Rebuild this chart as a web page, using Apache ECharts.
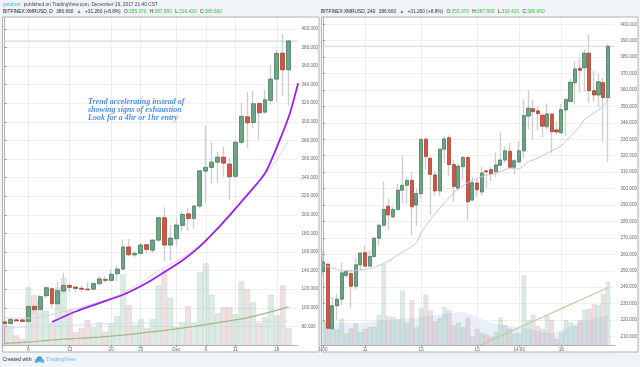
<!DOCTYPE html>
<html>
<head>
<meta charset="utf-8">
<script src="https://cdn.jsdelivr.net/npm/echarts@6/dist/echarts.min.js"></script>
<style>
html,body{margin:0;padding:0;background:#f0f3f7;}
#main{width:640px;height:367px;}
</style>
</head>
<body>
<div id="main"></div>
<script>
// daily panel: [open, close, low, high]
var dailyCandles = [
  [85,83,79,86.5],[83,87.5,82,89],[87,86,85.5,88],[87,85.4,85,87.5],[85.4,101.5,84.7,102],
  [101.5,98,93.6,104],[98.3,112,97,114],[113,121.6,110,123],[120.5,104.4,100,122],[104.4,118.4,100,127.7],
  [118,124,115,138],[124,122,116.6,126.6],[122.3,120.9,117,123],[121,120,117,123.7],[120,119.4,119,128],
  [120,126,119,127],[126,131,123.7,134.5],[130.5,129.5,127,133.8],[129.5,136,128,142],[136.6,141.6,128,145.6],
  [141.6,165.3,141,173.5],[165.3,157,156,174],[157,158.5,154,161.7],[158.5,167.5,158,170],[167.8,162.8,159,168.5],
  [162,172.8,159,174],[172.8,196.8,171,197.5],[196.8,167.5,150,208],[167.5,175,150.6,189],[174.3,189,166,197],
  [188.6,200.4,182,204.7],[201,196,182.5,207.6],[196,209.4,185,210.5],[209.4,247.3,207,248],[247,251,212.6,296],
  [251,256.6,233.7,278],[256.6,262,233.7,267.4],[262,255.6,241,272.8],[254.5,241,215.5,261],[241.4,278,239,278.5],
  [278,305.7,276,320.4],[305.4,299,271.7,332],[299.3,319.4,293,333],[319.7,309.7,280.6,320],[310.4,323.7,308.6,334.4],
  [323,345.9,318.3,361],[345.9,373.5,321.5,377.4],[373.8,355.9,328,394.6],[355.9,387,317,387.9]
];
var dailyVolume = [20,19,9.7,6,57.7,49.7,42.3,34.3,21.7,57.7,67,35,13,17,25,17.7,22.7,13.3,21.7,29,71,40,19.7,25.7,17,25.7,59.7,75,47,18.3,23,39,21.7,73,81.7,50.3,31.7,38,37.7,31,63.7,55.7,42.7,21.7,27.7,50.3,29.7,59.7,17];
var dailyTickIdx = [4,11,18,23,29,34,39,46];
var dailyTickText = ['6','13','20','25','Dec','6','11','18'];
var dailyTrend = [[8,84.7],[12,96],[16,105],[20,114],[24,126.6],[27.4,140],[30.2,151.7],[33,166],[35.8,184],[38.6,203.7],[41.5,225],[43.2,237.7],[44.3,248],[46.5,280.6],[48.2,309],[49.6,341.6]];
var dailyMaFast = [[0,89],[5,89],[10,96],[15,104.4],[19,113],[23,126.6],[26,140],[30,153.5],[34,173],[38,198],[40.3,218],[43.7,241],[46,259],[48,280]];
var dailyMaSlow = [[0,61.7],[4,63],[8,65.5],[12,67],[16,68.5],[20,70.6],[24,73.5],[28,76.5],[32,80],[36,84],[40,88],[44,94],[48,101]];
var dailyVolMa = [[0,17],[5,18],[11,20],[23,22],[30,22],[48,24]];

// 4h panel: [open, close, low, high]
var h4Candles = [
  [249.6,255.4,246.7,262],[254,215,214.7,254.5],[214.7,228.7,214.3,234],[228.7,232.7,220,236],[232.7,248.7,229,254.8],
  [247,249.6,246.6,250.4],[248.3,240.6,227,250.4],[240.6,253.6,238.6,258],[253.6,260.7,250.4,261.5],[261,252.8,252.4,265],
  [252.8,258.7,252.4,262.5],[258.7,269.8,258,270.6],[269.8,277.7,265.4,278.4],[277.7,287.3,276.3,304.5],[289.3,284,275,294],
  [282.8,287.3,282,289],[287.3,299,287,303],[299,302,291.3,320.3],[302,305,291,307],[305,289,271.7,310],
  [290,297,277,300],[297,330,294,330.5],[330,319.5,311.8,331.4],[318.5,308.7,284,318.8],[308.3,298.6,295.6,311],
  [298.6,324,295.4,324.5],[324,330.2,315.4,332],[331,314.6,307.3,332.5],[314.6,301.3,292,317.4],[300.2,313.6,299,315.4],
  [313.4,319,305,319.5],[319,292,280.8,319.4],[293,303.6,292.6,307.3],[303.4,299.3,295,306],[298,309.5,295.6,313.4],
  [310.8,310.2,300,311.2],[311.6,309,304.5,313.4],[310.3,314.4,307,322],[314.2,317.4,314,334],[317.4,323,315.8,325.6],
  [322.7,313,312.5,327.8],[313,317,308.7,318],[316.2,323,315.8,329],[323,344.4,318.5,354.4],[344.2,348.9,336.3,360],
  [348.7,346.9,330,354],[347.3,345.6,335.3,350],[344.6,338,331.2,345.8],[337.7,345.4,336,352],[345.4,334.7,321.5,345.8],
  [335.7,334.5,333,340.8],[334,348,333.6,351.5],[347.9,354.2,332,355],[353,364.7,352.6,367],[364.5,372.8,351,377.3],
  [373.2,372,358.4,380],[373.6,382.4,359,384.8],[382.4,359.6,352.3,394],[359.6,357,353,371.8],[357,365,349.5,369.8],
  [364.5,355.4,328,367.3],[355.4,386.6,316.4,388]
];
var h4Volume = [23.7,23.3,16,16,26.7,12,16.7,22,13,16,18,18.3,30,81,29,28,25.7,54.7,22,45,17.7,36.7,50.7,35,23.7,27,38,35,19.7,22.3,18,27,8.3,16.3,11.7,10.7,8.3,13,27.7,20,16.3,11.7,12,69.7,24.7,30.3,19,16,29.7,25,6.3,12.7,25,22.7,19.3,25,35.3,36.3,41,40,51,63];
var h4TickIdx = [0,9,21,33,42,51];
var h4TickText = ['1:00','11','13','15','14:00','18'];
var h4MaFast = [[0,253.4],[2,251.8],[4,250],[6,250],[8,250.4],[11,252],[14,255.8],[16,259.5],[18,263],[20,267],[21,273],[23,281],[24,284.8],[26,291.3],[28,297.4],[29,299.8],[31,303.6],[34,307.3],[37,309.3],[40,312.3],[42,312],[44,316.4],[46,318.5],[49,323],[51,326],[53,331.6],[55,337.7],[56,342],[58,345.8],[60,350],[61,354]];
var h4MaSlow = [[33.6,204.7],[44,217.9],[61,239.6]];
var h4VolMa = [[0,23],[7,22],[14,25],[21,28],[30,33],[36,22],[42,18],[49,12],[55,23],[61,30]];

var lastPrice = 386.66;
var noteLines = ['Trend accelerating instead of', 'showing signs of exhaustion', 'Look for a 4hr or 1hr entry'];

var GREEN = '#6ba583', RED = '#d75442';
var GREEN_EDGE = '#3a7353', RED_EDGE = '#9c3a2a';
var WICK = '#cfcfcf';
var GRID_LINE = '#f0f0f0', FRAME = '#b2b2b2', LABEL = '#666';
var FONT = '"Liberation Sans", Arial, sans-serif';
var AXIS_SIZE = 4.6, HEAD_SIZE = 4.8;

var dailyCount = 50, h4Count = 63;
var dailyBand = 5.917, h4Band = 4.672;
var grids = [
  {left: 1.7, top: 17, width: dailyBand * dailyCount, height: 328},   // daily price
  {left: 1.7, top: 17, width: dailyBand * dailyCount, height: 328},   // daily volume
  {left: 320.66, top: 17, width: h4Band * h4Count, height: 335.9},    // 4h price (axis runs to 200)
  {left: 320.66, top: 17, width: h4Band * h4Count, height: 328}       // 4h volume
];

function indexList(n) {
  var out = [];
  for (var i = 0; i < n; i++) out.push(i);
  return out;
}
function hiddenCategory(grid, n) {
  return {type: 'category', gridIndex: grid, data: indexList(n), show: false, boundaryGap: true};
}
function hiddenValue(grid, n) {
  return {type: 'value', gridIndex: grid, min: -0.5, max: n - 0.5, show: false};
}
function tickAxis(grid, n, idx, text) {
  var isTick = function (i) { return idx.indexOf(i) >= 0; };
  return {
    type: 'category', gridIndex: grid, data: indexList(n), boundaryGap: true,
    axisLine: {show: true, onZero: false, lineStyle: {color: FRAME, width: 1}},
    axisTick: {show: true, alignWithLabel: true, length: 2, interval: isTick, lineStyle: {color: '#999'}},
    axisLabel: {
      show: true, interval: isTick, color: LABEL, fontSize: AXIS_SIZE, fontFamily: FONT, margin: 2,
      formatter: function (v, i) { return text[idx.indexOf(+v)]; }
    },
    splitLine: {show: true, alignWithLabel: true, interval: isTick, lineStyle: {color: '#eeeeee', width: 1}}
  };
}
function priceAxis(grid, min, max, interval, offset) {
  return {
    type: 'value', gridIndex: grid, position: 'right', min: min, max: max, interval: interval, offset: offset,
    axisLine: {show: false},
    axisTick: {show: true, length: 2, lineStyle: {color: '#999'}},
    axisLabel: {
      color: LABEL, fontSize: AXIS_SIZE, fontFamily: FONT, margin: 3, showMinLabel: false, showMaxLabel: false,
      formatter: function (v) { return v.toFixed(3); }
    },
    splitLine: {show: true, lineStyle: {color: GRID_LINE, width: 1}}
  };
}
function volumeAxis(grid, offset) {
  return {
    type: 'value', gridIndex: grid, position: 'right', min: 0, max: 328, offset: offset,
    axisLine: {show: true, lineStyle: {color: FRAME, width: 1}},
    axisTick: {show: false}, axisLabel: {show: false}, splitLine: {show: false}
  };
}
function candleSeries(xi, yi, candles, width) {
  // grey wicks first, the bodies go on top without a wick of their own
  var bodies = candles.map(function (c) {
    return [c[0], c[1], Math.min(c[0], c[1]), Math.max(c[0], c[1])];
  });
  return [{
    type: 'candlestick', xAxisIndex: xi, yAxisIndex: yi, data: candles, z: 4, barWidth: 1.6,
    itemStyle: {color: WICK, color0: WICK, borderColor: WICK, borderColor0: WICK, borderWidth: 1.4}
  }, {
    type: 'candlestick', xAxisIndex: xi, yAxisIndex: yi, data: bodies, z: 5, barWidth: width,
    itemStyle: {color: GREEN, color0: RED, borderColor: GREEN_EDGE, borderColor0: RED_EDGE, borderWidth: 0.7}
  }];
}
function volumeSeries(xi, yi, values, candles) {
  return {
    type: 'bar', xAxisIndex: xi, yAxisIndex: yi, z: 2, barWidth: '100%',
    data: values.map(function (v, i) {
      var up = candles[i][1] >= candles[i][0];
      return {
        value: v,
        itemStyle: {
          color: up ? 'rgba(107,165,131,0.22)' : 'rgba(180,120,125,0.22)',
          borderColor: up ? 'rgba(107,165,131,0.25)' : 'rgba(180,120,125,0.25)',
          borderWidth: 0.6
        }
      };
    })
  };
}
function lineSeries(xi, yi, data, color, width, z, extra) {
  return Object.assign({
    type: 'line', xAxisIndex: xi, yAxisIndex: yi, data: data, symbol: 'none', z: z,
    smooth: 0.2, lineStyle: {color: color, width: width}
  }, extra || {});
}

var dailyLast = [[-0.5, lastPrice], [dailyCount - 0.5, lastPrice]];
var h4Last = [[-0.5, lastPrice], [h4Count - 0.5, lastPrice]];

var series = []
  .concat(volumeSeries(2, 1, dailyVolume, dailyCandles))
  .concat(lineSeries(6, 1, dailyVolMa, '#cfe3f2', 1, 3))
  .concat(lineSeries(1, 0, dailyLast, '#d4e6da', 1.6, 3, {smooth: false}))
  .concat(candleSeries(0, 0, dailyCandles, 4.4))
  .concat(lineSeries(1, 0, dailyMaFast, '#d8d0ec', 1, 6))
  .concat(lineSeries(1, 0, dailyMaSlow, '#9db98c', 1.2, 6))
  .concat(lineSeries(1, 0, dailyTrend, '#9d1fee', 1.8, 7))
  .concat(volumeSeries(5, 3, h4Volume, h4Candles))
  .concat(lineSeries(7, 3, h4VolMa, 'rgba(0,0,0,0)', 0, 1, {areaStyle: {color: '#e9eff9', opacity: 1}}))
  .concat(lineSeries(4, 2, h4Last, '#c9ded2', 1, 3, {smooth: false}))
  .concat(candleSeries(3, 2, h4Candles, 3.8))
  .concat(lineSeries(4, 2, h4MaFast, '#c9c3e6', 1, 6))
  .concat(lineSeries(4, 2, h4MaSlow, '#afd09a', 1.1, 6, {smooth: false}));

function headerRow(x, y, name) {
  return {
    type: 'text', x: x, y: y, z: 20,
    style: {
      text: '{n|' + name + '} {p|386.660} {g|\u25B2} {p|+31.260 (+8.8%)} {p|O:}{v|355.370} {p|H:}{v|387.990} {p|L:}{v|316.420} {p|C:}{v|386.660}',
      verticalAlign: 'middle',
      rich: {
        n: {fill: '#222', fontSize: HEAD_SIZE, fontFamily: FONT},
        p: {fill: '#333', fontSize: HEAD_SIZE, fontFamily: FONT},
        g: {fill: '#2e9e2e', fontSize: HEAD_SIZE, fontFamily: FONT},
        v: {fill: '#3fc43f', fontSize: HEAD_SIZE, fontFamily: FONT}
      }
    }
  };
}

var graphics = [
  {type: 'rect', z: -5, shape: {x: 2.5, y: 17, width: 316.5, height: 335}, style: {fill: '#fff', stroke: null}},
  {type: 'rect', z: -5, shape: {x: 321.5, y: 17, width: 316.5, height: 335}, style: {fill: '#fff', stroke: null}},
  {type: 'rect', z: 15, shape: {x: 2.5, y: 17, width: 316.5, height: 335}, style: {fill: 'none', stroke: FRAME, lineWidth: 1}},
  {type: 'rect', z: 15, shape: {x: 321.5, y: 17, width: 316.5, height: 335}, style: {fill: 'none', stroke: FRAME, lineWidth: 1}},
  {
    type: 'text', x: 3, y: 4.5, z: 20,
    style: {
      text: '{a|gvruben} {b|published on TradingView.com, December 19, 2017 21:40 CST}',
      verticalAlign: 'middle',
      rich: {
        a: {fill: '#3ab0e2', fontSize: HEAD_SIZE, fontFamily: FONT},
        b: {fill: '#444', fontSize: HEAD_SIZE, fontFamily: FONT}
      }
    }
  },
  headerRow(3, 11.7, 'BITFINEX:XMRUSD, D'),
  headerRow(321, 11.7, 'BITFINEX:XMRUSD, 240'),
  {
    type: 'text', x: 88, y: 110, z: 20,
    style: {
      text: noteLines.join('\n'), fill: '#4f8fea',
      font: 'italic bold 8px "Liberation Serif", "Times New Roman", serif',
      lineHeight: 8, verticalAlign: 'middle'
    }
  },
  {type: 'text', x: 2.5, y: 360, z: 20, style: {text: 'Created with', fill: '#333', font: '5.2px ' + FONT, verticalAlign: 'middle'}},
  {type: 'text', x: 46, y: 360, z: 20, style: {text: 'TradingView', fill: '#6cc3ea', font: '5.4px ' + FONT, verticalAlign: 'middle'}},
  // little cloud logo
  {type: 'circle', z: 20, shape: {cx: 36.5, cy: 361, r: 2}, style: {fill: '#5cb6e2'}},
  {type: 'circle', z: 20, shape: {cx: 39.5, cy: 359, r: 2.8}, style: {fill: '#3f9fd6'}},
  {type: 'circle', z: 20, shape: {cx: 42.5, cy: 361, r: 1.9}, style: {fill: '#5cb6e2'}}
];

var chart = echarts.init(document.getElementById('main'), null, {renderer: 'canvas'});
chart.setOption({
  backgroundColor: '#f0f3f7',
  animation: false,
  grid: grids,
  xAxis: [
    hiddenCategory(0, dailyCount),                                  // 0
    hiddenValue(0, dailyCount),                                     // 1
    tickAxis(1, dailyCount, dailyTickIdx, dailyTickText),           // 2
    hiddenCategory(2, h4Count),                                     // 3
    hiddenValue(2, h4Count),                                        // 4
    tickAxis(3, h4Count, h4TickIdx, h4TickText),                    // 5
    hiddenValue(1, dailyCount),                                     // 6
    hiddenValue(3, h4Count)                                         // 7
  ],
  yAxis: [
    priceAxis(0, 60, 412.7, 20, 1),
    volumeAxis(1, 1),
    priceAxis(2, 200, 404.45, 10, 2.7),
    volumeAxis(3, 2.7)
  ],
  series: series,
  graphic: graphics
});
</script>
</body>
</html>
